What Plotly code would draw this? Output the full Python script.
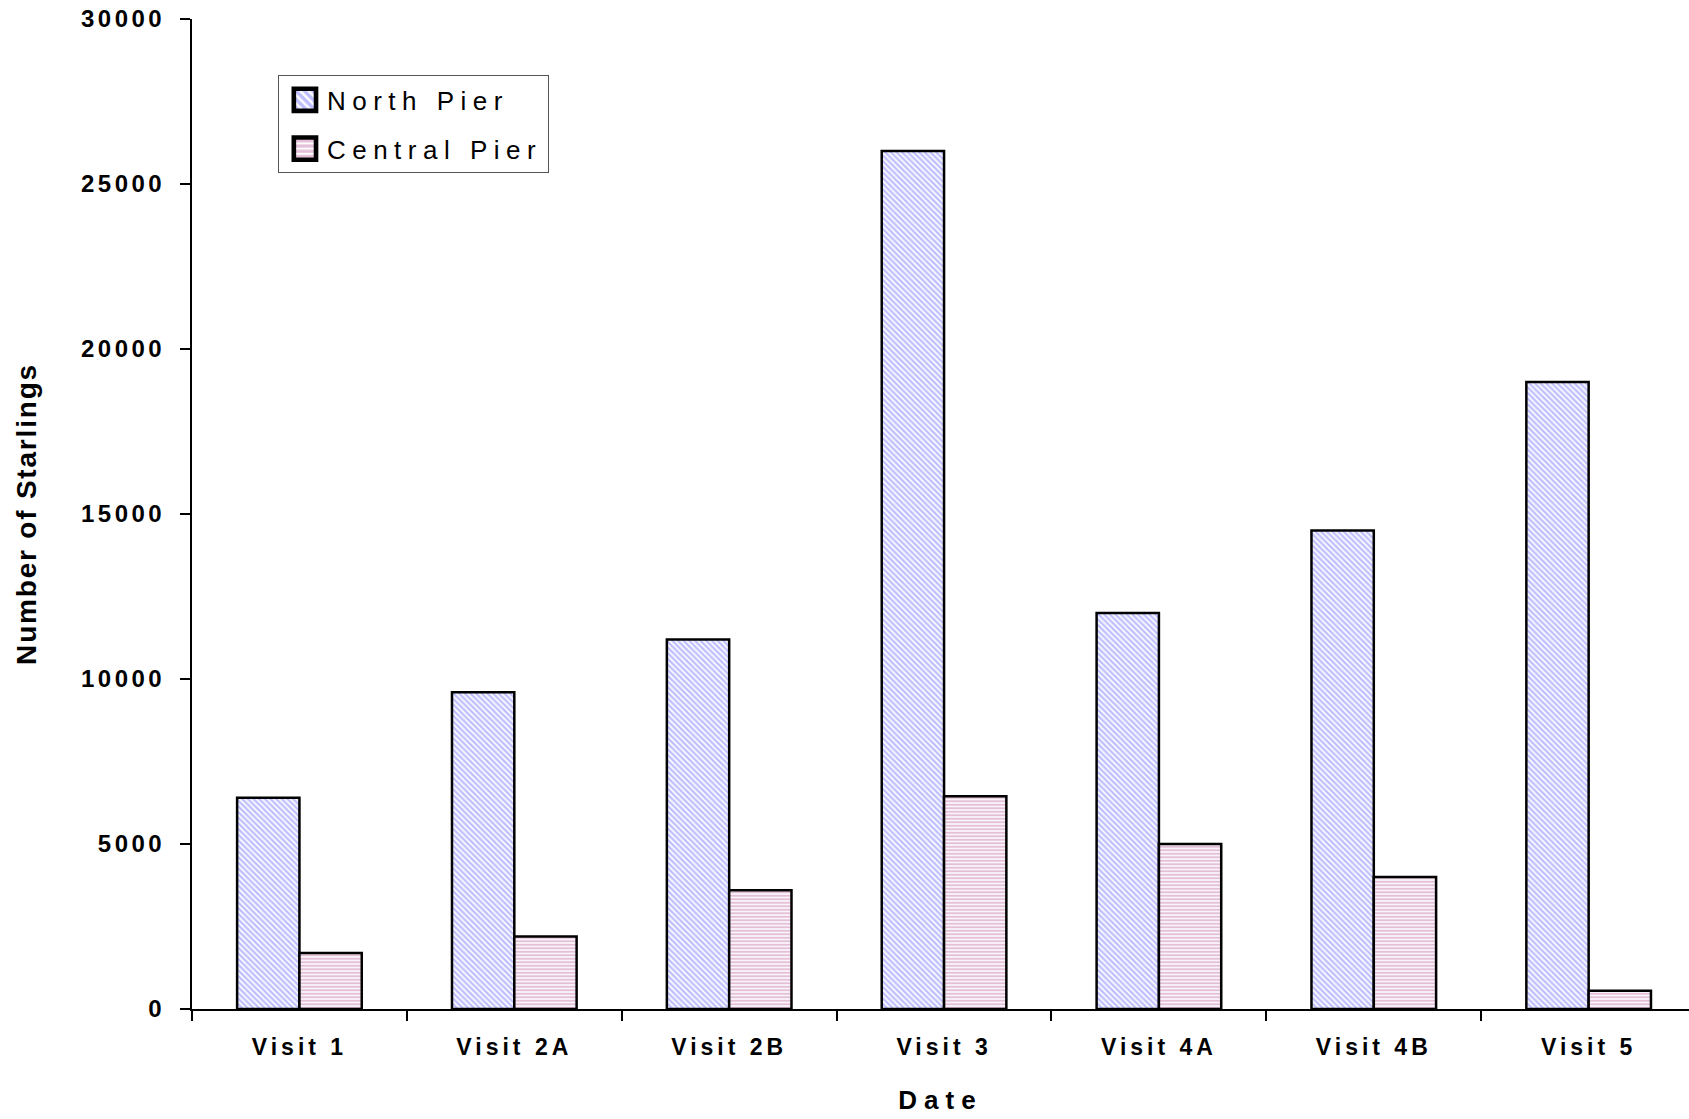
import plotly.graph_objects as go

# ---- data ----
categories = ["Visit 1", "Visit 2A", "Visit 2B", "Visit 3", "Visit 4A", "Visit 4B", "Visit 5"]
north_pier = [6400, 9600, 11200, 26000, 12000, 14500, 19000]
central_pier = [1700, 2200, 3600, 6450, 5000, 4000, 550]
series_names = ["North Pier", "Central Pier"]
y_tick_values = [0, 5000, 10000, 15000, 20000, 25000, 30000]
y_tick_labels = ["0", "5000", "10000", "15000", "20000", "25000", "30000"]
x_title = "Date"
y_title = "Number of Starlings"

FONT = "Liberation Sans, Arial, Helvetica, sans-serif"


def spaced(text, px):
    return '<span style="letter-spacing:%spx">%s</span>' % (px, text)


fig = go.Figure()
fig.add_trace(go.Bar(
    x=categories, y=north_pier, name=spaced(series_names[0], 6.5),
    legendgroup="a",
    marker=dict(color="white",
                line=dict(color="black", width=2.5),
                pattern=dict(shape="\\", fgcolor="#8080ff", bgcolor="white",
                             size=4, solidity=0.6)),
))
fig.add_trace(go.Bar(
    x=categories, y=central_pier, name=spaced(series_names[1], 6.5),
    legendgroup="b",
    marker=dict(color="white",
                line=dict(color="black", width=2.5),
                pattern=dict(shape="-", fgcolor="#c87fb2", bgcolor="white",
                             size=3.5, solidity=0.6)),
))

fig.update_layout(
    width=1689, height=1119,
    paper_bgcolor="white", plot_bgcolor="white",
    margin=dict(l=192, r=0, t=19, b=110),
    barmode="group", bargap=0.42, bargroupgap=0,
    font=dict(family=FONT, color="black"),
    legend=dict(
        x=0.0574, y=0.943, xanchor="left", yanchor="top",
        bordercolor="#555555", borderwidth=1, bgcolor="white",
        font=dict(family=FONT, size=26, color="black"),
        tracegroupgap=12, traceorder="grouped", itemwidth=38,
    ),
    showlegend=True,
)

fig.update_xaxes(
    type="category",
    range=[-0.5, 6.467],
    tickvals=categories,
    ticktext=[spaced(c, 4) for c in categories],
    tickson="boundaries",
    ticks="outside", ticklen=10, tickwidth=2, tickcolor="black",
    showline=True, linecolor="black", linewidth=2,
    showgrid=False, zeroline=False,
    tickfont=dict(family=FONT, size=23, color="black", weight="bold"),
    ticklabelstandoff=16,
    title=dict(text=spaced(x_title, 7), standoff=32,
               font=dict(family=FONT, size=26, color="black", weight="bold")),
)

fig.update_yaxes(
    range=[0, 30000],
    tickvals=y_tick_values,
    ticktext=[spaced(t, 3.5) for t in y_tick_labels],
    ticks="outside", ticklen=10, tickwidth=2, tickcolor="black",
    showline=True, linecolor="black", linewidth=2,
    showgrid=False, zeroline=False,
    tickfont=dict(family=FONT, size=24, color="black", weight="bold"),
    ticklabelstandoff=10,
    title=dict(text=spaced(y_title, 1.8), standoff=36,
               font=dict(family=FONT, size=28, color="black", weight="bold")),
)

post_js = """
document.body.style.margin = '0';
var s = document.createElement('style');
s.textContent = '.legendpoints path{transform:translate(26px,0px) scale(1.85);}';
document.head.appendChild(s);
"""

fig.write_html("out.html", post_script=post_js, config={"displayModeBar": False})
